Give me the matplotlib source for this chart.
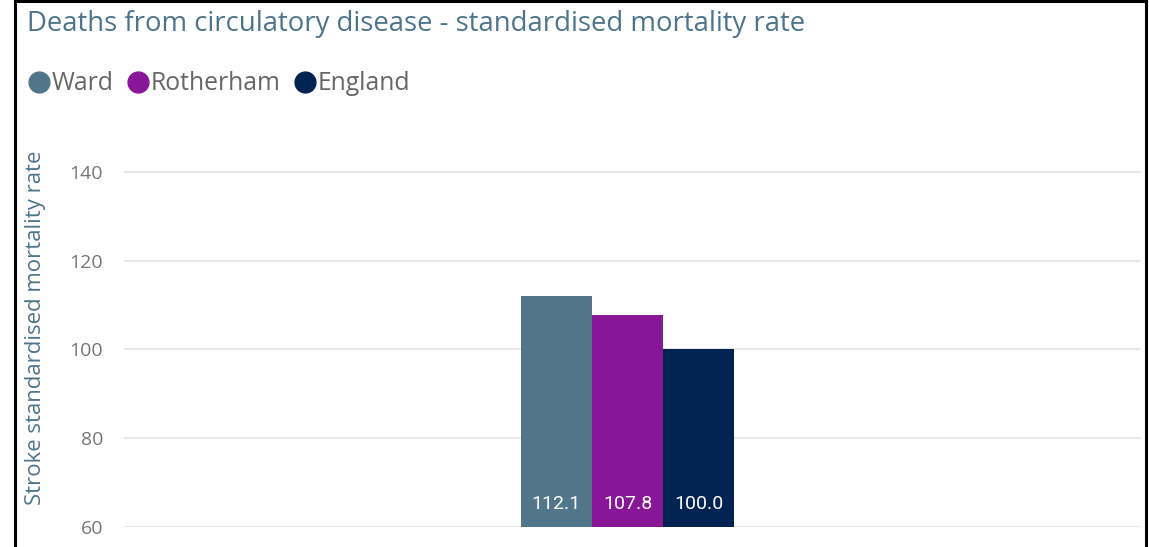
import matplotlib
matplotlib.use("Agg")
import matplotlib.pyplot as plt
from matplotlib.lines import Line2D

categories = ["Ward", "Rotherham", "England"]
values = [112.1, 107.8, 100.0]
colors = ["#51768a", "#881798", "#002352"]
yticks = [60, 80, 100, 120, 140]
title = "Deaths from circulatory disease - standardised mortality rate"
ylabel = "Stroke standardised mortality rate"

W, H = 1149, 547
fig = plt.figure(figsize=(W / 100, H / 100), dpi=100)
FONT = ["Open Sans", "DejaVu Sans"]

def fx(px):
    return px / W

def fy(py):
    return 1 - py / H

ax = fig.add_axes([fx(124), fy(527), fx(1141) - fx(124), fy(149.8) - fy(527)])
ax.set_ylim(60, 145)
ax.set_xlim(-7.06, 7.2)
xs = [-1, 0, 1]
bars = ax.bar(xs, values, width=1.0, bottom=0, color=colors, zorder=3)
for x, v in zip(xs, values):
    ax.text(x, 65.1, f"{v:.1f}", ha="center", va="center", color="white",
            fontsize=14, family=["Roboto", "DejaVu Sans"], zorder=4)

ax.set_yticks(yticks)
ax.set_yticklabels([str(t) for t in yticks], fontsize=14, color="#777777", family=FONT)
ax.tick_params(axis="y", length=0, pad=15)
ax.set_xticks([])
ax.grid(axis="y", color="#e8e8e8", linewidth=1.5, zorder=0)
for s in ax.spines.values():
    s.set_visible(False)

fig.text(fx(36), fy(328), ylabel, rotation=90, ha="center", va="center",
         fontsize=15.9, color="#4e748b", family=FONT)

fig.text(fx(27), fy(24), title, ha="left", va="center", fontsize=19.8,
         color="#4e748b", family=FONT)

# legend (manual)
fig.canvas.draw()
r = fig.canvas.get_renderer()
xpos = 39
for name, c in zip(categories, colors):
    fig.add_artist(Line2D([fx(xpos)], [fy(82)], marker="o", markersize=15,
                          color=c, linestyle="none", transform=fig.transFigure))
    t = fig.text(fx(xpos + 13), fy(84), name, ha="left", va="center",
                 fontsize=17.8, color="#666666", family=FONT)
    bb = t.get_window_extent(renderer=r)
    xpos = bb.x1 + 24

# frame
lw = 2.2
fig.add_artist(Line2D([fx(15), fx(15)], [0, 1], color="black", lw=lw, transform=fig.transFigure))
fig.add_artist(Line2D([fx(1146), fx(1146)], [0, 1], color="black", lw=lw, transform=fig.transFigure))
fig.add_artist(Line2D([fx(15), fx(1146)], [fy(0.8), fy(0.8)], color="black", lw=lw, transform=fig.transFigure))

fig.savefig("out.png", dpi=100, facecolor="white")
